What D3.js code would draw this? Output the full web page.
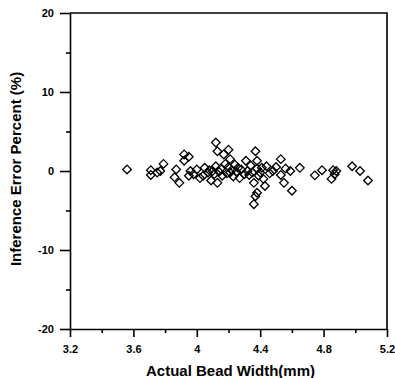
<!DOCTYPE html>
<meta charset="utf-8">
<style>
  body { margin: 0; background: #fff; }
  text { font-family: Arial, "Liberation Sans", sans-serif; font-weight: bold; fill: #000; }
</style>
<script src="https://d3js.org/d3.v7.min.js"></script>
<body>
<div id="chart"></div>
<script>

  // actual bead width (mm)
  var widths = [3.56, 3.71, 3.71, 3.77, 3.79, 3.75, 3.87, 3.86, 3.89, 3.92,
                3.95, 3.92, 3.96, 3.98, 3.95, 4.00, 4.02, 4.04, 4.05, 4.07,
                4.08, 4.10, 4.09, 4.11, 4.12, 4.12, 4.13, 4.13, 4.14, 4.15,
                4.16, 4.17, 4.18, 4.19, 4.20, 4.20, 4.21, 4.21, 4.22, 4.23,
                4.24, 4.25, 4.26, 4.27, 4.28, 4.30, 4.31, 4.32, 4.33, 4.34,
                4.35, 4.36, 4.37, 4.38, 4.38, 4.39, 4.38, 4.37, 4.36, 4.40,
                4.41, 4.42, 4.43, 4.44, 4.46, 4.48, 4.50, 4.53, 4.53, 4.55,
                4.56, 4.59, 4.60, 4.65, 4.745, 4.79, 4.86, 4.87, 4.85, 4.88,
                4.98, 5.03, 5.08];
  // inference error percent (%)
  var errors = [0.2, 0.1, -0.5, 0.0, 0.9, -0.2, 0.2, -0.8, -1.5, 2.1,
                1.8, 1.3, 0.0, -0.4, -0.6, 0.2, -0.9, -0.6, 0.4, -0.2,
                0.1, 0.0, -1.2, -0.4, 0.6, 3.6, 2.5, -1.5, -0.1, 0.3,
                -0.6, 2.1, 0.9, -0.3, 2.7, 0.5, 1.5, -0.2, 0.1, -0.7,
                0.8, -0.1, 0.4, -0.9, 0.2, -0.4, 1.3, 0.0, -0.5, 0.7,
                -0.2, -1.5, 2.5, 1.3, 0.3, -0.6, -2.75, -3.2, -4.2, -0.2,
                0.4, -1.0, -1.9, 0.6, -0.3, 0.0, 0.5, 1.5, -0.5, -1.5,
                0.3, 0.0, -2.5, 0.4, -0.55, 0.1, 0.1, -0.4, -1.0, 0.0,
                0.6, 0.0, -1.2];

  var xTicks = [3.2, 3.6, 4, 4.4, 4.8, 5.2];
  var yTicks = [-20, -10, 0, 10, 20];

  var width = 395,
      height = 378,
      margin = {top: 13, right: 8, bottom: 49, left: 70};

  var svg = d3.select("#chart").append("svg")
      .attr("width", width)
      .attr("height", height);

  var x = d3.scaleLinear().domain([3.2, 5.2]).range([margin.left, width - margin.right]);
  var y = d3.scaleLinear().domain([-20, 20]).range([height - margin.bottom, margin.top]);

  // minor ticks
  svg.append("g")
      .attr("transform", "translate(0," + y(-20) + ")")
      .call(d3.axisBottom(x).tickValues(d3.range(3.4, 5.2, 0.4)).tickSize(4).tickFormat(""))
      .call(function(g) { g.select(".domain").remove(); });
  svg.append("g")
      .attr("transform", "translate(" + x(3.2) + ",0)")
      .call(d3.axisLeft(y).tickValues([-15, -5, 5, 15]).tickSize(4).tickFormat(""))
      .call(function(g) { g.select(".domain").remove(); });

  var xAxis = svg.append("g")
      .attr("transform", "translate(0," + y(-20) + ")")
      .call(d3.axisBottom(x).tickValues(xTicks).tickSize(8).tickSizeOuter(0).tickPadding(8)
        .tickFormat(function(d) { return String(d); }));
  var yAxis = svg.append("g")
      .attr("transform", "translate(" + x(3.2) + ",0)")
      .call(d3.axisLeft(y).tickValues(yTicks).tickSize(10).tickSizeOuter(0).tickPadding(6)
        .tickFormat(function(d) { return String(d); }));

  svg.selectAll(".tick text").style("font-size", "11px").style("font-family", "Arial, 'Liberation Sans', sans-serif").style("font-weight", "bold");
  svg.selectAll(".domain, .tick line").attr("stroke", "#000").attr("stroke-width", 1.6);

  // frame top and right
  svg.append("path")
      .attr("d", "M" + x(3.2) + "," + y(20) + "H" + x(5.2) + "V" + y(-20))
      .attr("fill", "none")
      .attr("stroke", "#000")
      .attr("stroke-width", 1.6);

  // diamonds
  var r = 4.3;
  svg.append("g").selectAll("path")
    .data(widths.map(function(w, i) { return [w, errors[i]]; }))
    .enter().append("path")
      .attr("transform", function(d) { return "translate(" + x(d[0]) + "," + y(d[1]) + ")"; })
      .attr("d", "M0," + (-r) + "L" + r + ",0L0," + r + "L" + (-r) + ",0Z")
      .attr("fill", "none")
      .attr("stroke", "#000")
      .attr("stroke-width", 1.3);

  svg.append("text")
      .attr("x", (x(3.2) + x(5.2)) / 2 + 2)
      .attr("y", 376)
      .attr("text-anchor", "middle")
      .style("font-size", "15px")
      .text("Actual Bead Width(mm)");

  svg.append("text")
      .attr("transform", "translate(21," + (y(0) - 2) + ") rotate(-90)")
      .attr("text-anchor", "middle")
      .style("font-size", "15px")
      .text("Inference Error Percent (%)");

</script>
</body>
